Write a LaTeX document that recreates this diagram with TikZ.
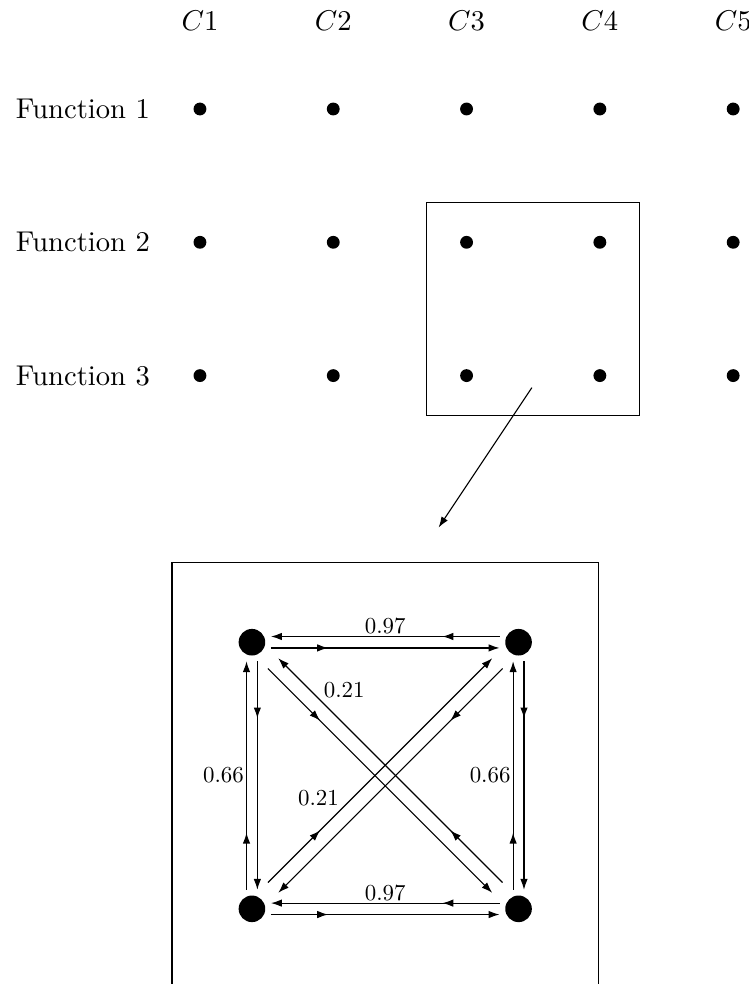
\documentclass[tikz,border=0pt]{standalone}
\usetikzlibrary{decorations.markings, arrows.meta}
\begin{document}
\begin{tikzpicture}[x=1.638cm, y=1.638cm, >={Latex[length=3.8pt, width=2.6pt]},
        smalldot/.style={circle, fill, inner sep=0pt, minimum size=4.5pt},
        bigdot/.style={circle, fill, inner sep=0pt, minimum size=9.3pt, outer sep=2pt},
        flow/.style={->, postaction={decorate},
            decoration={markings, mark=at position 0.25 with {\arrow{>}}}},
        weight/.style={scale=0.8}]
        \useasboundingbox (-1.5, 0.8177) rectangle (4.1185, -6.564);

        % Column labels
        \foreach \c in {1,...,5} {
            \node (c\c) at (\c-1, 0.66) {$C\c$};
        }

        % Function rows
        \foreach \r in {1,2,3} {
            \node[left] (f\r) at (-0.3, 1-\r) {Function \r};
            \foreach \c in {1,...,5} {
                \node[smalldot] (p\c\r) at (\c-1, 1-\r) {};
            }
        }

        % Selected block
        \draw (1.7, -0.7) rectangle (3.3, -2.3);
        \coordinate (zfrom) at (2.49, -2.09);
        \coordinate (zto) at (1.79, -3.14);
        \draw[->] (zfrom) -- (zto);

        % Zoomed block
        \draw (-0.21, -3.4) rectangle (2.99, -6.6);
        \node[bigdot] (tl) at (0.39, -4) {};
        \node[bigdot] (tr) at (2.39, -4) {};
        \node[bigdot] (bl) at (0.39, -6) {};
        \node[bigdot] (br) at (2.39, -6) {};

        % Horizontal links
        \foreach \a/\b in {tl/tr, bl/br} {
            \draw[flow] ([yshift=2pt]\b.west) -- ([yshift=2pt]\a.east);
            \draw[flow] ([yshift=-2pt]\a.east) -- ([yshift=-2pt]\b.west);
            \path (\a) -- (\b) node[midway, above, weight] {0.97};
        }

        % Vertical links
        \foreach \a/\b in {tl/bl, tr/br} {
            \draw[flow] ([xshift=-1.9pt]\b.north) -- ([xshift=-1.9pt]\a.south);
            \draw[flow] ([xshift=1.9pt]\a.south) -- ([xshift=1.9pt]\b.north);
            \path (\a) -- (\b) node[midway, left, weight] {0.66};
        }

        % Diagonal links
        \draw[flow, shorten <=3.8pt, shorten >=3.8pt] ([shift={(-1.8pt,-1.8pt)}]tl.south east) -- ([shift={(-1.8pt,-1.8pt)}]br.north west);
        \draw[flow, shorten <=3.8pt, shorten >=3.8pt] ([shift={(1.8pt,1.8pt)}]br.north west) -- ([shift={(1.8pt,1.8pt)}]tl.south east);
        \draw[flow, shorten <=3.8pt, shorten >=3.8pt] ([shift={(-1.8pt,1.8pt)}]bl.north east) -- ([shift={(-1.8pt,1.8pt)}]tr.south west);
        \draw[flow, shorten <=3.8pt, shorten >=3.8pt] ([shift={(1.8pt,-1.8pt)}]tr.south west) -- ([shift={(1.8pt,-1.8pt)}]bl.north east);
        \path (tl) -- (br) node[pos=0.21, above right, weight] {0.21};
        \path (bl) -- (tr) node[pos=0.34, above left, weight] {0.21};
\end{tikzpicture}
\end{document}
